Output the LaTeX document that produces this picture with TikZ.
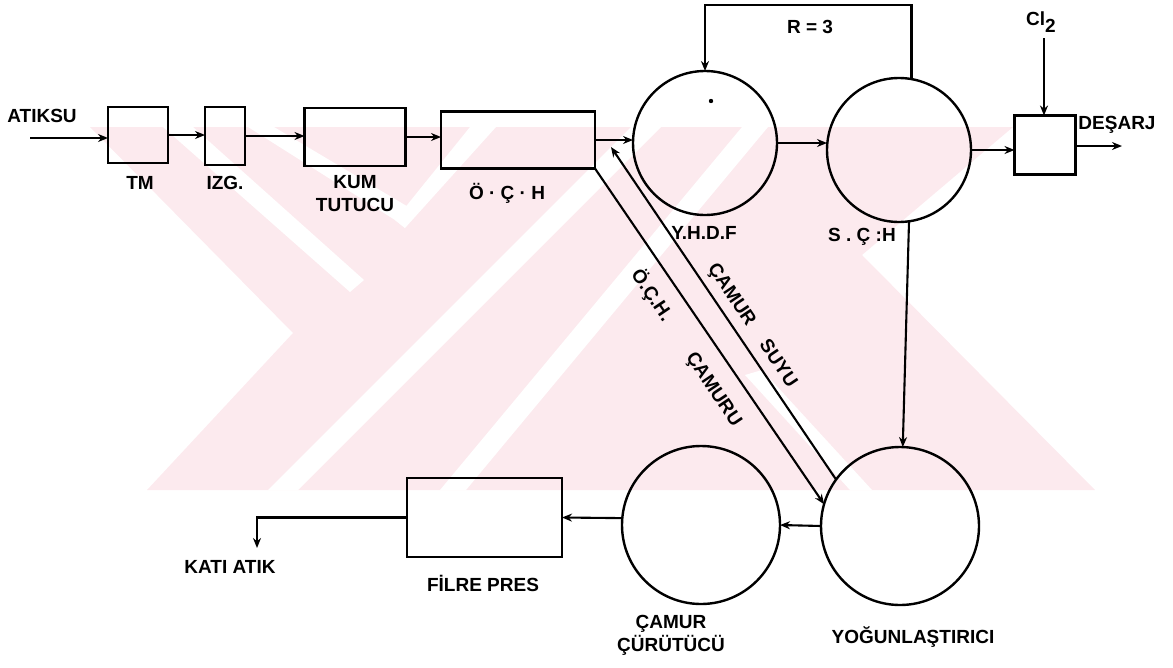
\documentclass[tikz,border=0pt]{standalone}
\usepackage{fontspec}
\setmainfont{Liberation Sans}
\usetikzlibrary{arrows.meta}
\definecolor{wm}{RGB}{252,234,238}
\begin{document}
\begin{tikzpicture}[x=1pt,y=-1pt,
  box/.style={draw,line width=2.8pt,inner sep=0pt,outer sep=0pt},
  tank/.style={draw,circle,line width=2.4pt,inner sep=0pt,outer sep=0pt},
  flow/.style={line width=2.1pt,-{Stealth[length=10pt,width=8pt]}},
  lbl/.style={font=\fontsize{19}{23}\selectfont\bfseries,inner sep=0pt},
]
\useasboundingbox (0,0) rectangle (1173,667);
% watermark (background)
\fill[wm] (90,127) -- (1013,127) -- (862,255) -- (1095,490) -- (147,490) -- (293,333) -- cycle;
\fill[white] (163,127) -- (193,127) -- (364,280) -- (350,292) -- cycle;
\fill[white] (248,127) -- (274,127) -- (410,208) -- (405,228) -- (395,220) -- cycle;
\fill[white] (395,220) -- (470,127) -- (496,127) -- (405,228) -- cycle;
\fill[white] (268,490) -- (298,490) -- (661,127) -- (631,127) -- cycle;
\fill[white] (440,490) -- (466,490) -- (768,127) -- (742,127) -- cycle;
\fill[white] (745,375) -- (762,370) -- (872,490) -- (850,490) -- cycle;
% units
\node[box,minimum width=60pt,minimum height=56pt] (tm) at (138,135) {};
\node[box,minimum width=40pt,minimum height=58pt] (izg) at (225,136) {};
\node[box,minimum width=101pt,minimum height=58pt] (kum) at (355,137) {};
\node[box,minimum width=154pt,minimum height=57pt] (och) at (518,140) {};
\node[tank,minimum size=144pt] (yhdf) at (705,143) {};
\node[tank,minimum size=144pt] (sch) at (899,150) {};
\node[box,minimum width=61pt,minimum height=59pt] (klor) at (1045,145) {};
\node[tank,minimum size=158pt] (yog) at (900,526) {};
\node[tank,minimum size=158pt] (ccu) at (701,525) {};
\node[box,minimum width=155pt,minimum height=79pt] (fp) at (484.5,517.5) {};
\fill (711,101) circle (2.2pt);
% free ends
\coordinate (src) at (30,138);
\coordinate (dis) at (1122,146);
\coordinate (clin) at (1044,38);
\coordinate (r3) at (810,5);
\coordinate (jn) at (611,147);
\coordinate (katip) at (257,548);
% connectors
\draw[flow] (src) -- (src -| tm.west);
\draw[flow] (tm.east) -- (tm.east -| izg.west);
\draw[flow] (izg.east) -- (izg.east -| kum.west);
\draw[flow] (kum.east) -- (kum.east -| och.west);
\draw[flow] (och.east) -- (och.east -| yhdf.west);
\draw[flow] (yhdf.east) -- (yhdf.east -| sch.west);
\draw[flow] (sch.east) -- (sch.east -| klor.west);
\draw[flow] (klor.east |- dis) -- (dis);
\draw[flow] (clin) -- (clin |- klor.north);
\draw[flow] (sch.80) |- (r3) -| (yhdf.north);
\draw[flow] (sch.-82) -- (yog.88);
\draw[flow] (och.south east) -- (yog.164);
\draw[flow] (yog.144) -- (jn);
\draw[flow] (yog.west) -- (ccu.east);
\draw[flow] (ccu.175) -- (fp.east);
\draw[flow] (fp.west) -| (katip);
% labels
\node[lbl] (lat) at (42,116) {ATIKSU};
\node[lbl] (ltm) at (140,183) {TM};
\node[lbl] (lizg) at (225,183) {IZG.};
\node[lbl,align=center] (lkum) at (355,194) {KUM\\TUTUCU};
\node[lbl] (loch) at (507,193) {Ö · Ç · H};
\node[lbl] (lyhdf) at (704,233) {Y.H.D.F};
\node[lbl] (lsch) at (862,237) {S . Ç :H};
\node[lbl] (lr) at (810,27) {R = 3};
\node[lbl] (lcl) at (1041,22) {Cl\raisebox{-7pt}{2}};
\node[lbl] (ldes) at (1117,125) {DEŞARJ};
\node[lbl] (lyog) at (913,637) {YOĞUNLAŞTIRICI};
\node[lbl,align=center] (lccu) at (671,635) {ÇAMUR\\ÇÜRÜTÜCÜ};
\node[lbl] (lfp) at (483,583) {FİLRE PRES};
\node[lbl] (lkati) at (230,567) {KATI ATIK};
\node[lbl,rotate=-56] (lcs1) at (731,295) {ÇAMUR};
\node[lbl,rotate=-56] (lcs2) at (779,363) {SUYU};
\node[lbl,rotate=-56] (loc1) at (652,295) {Ö.Ç.H.};
\node[lbl,rotate=-56] (loc2) at (713,390) {ÇAMURU};
\end{tikzpicture}
\end{document}
